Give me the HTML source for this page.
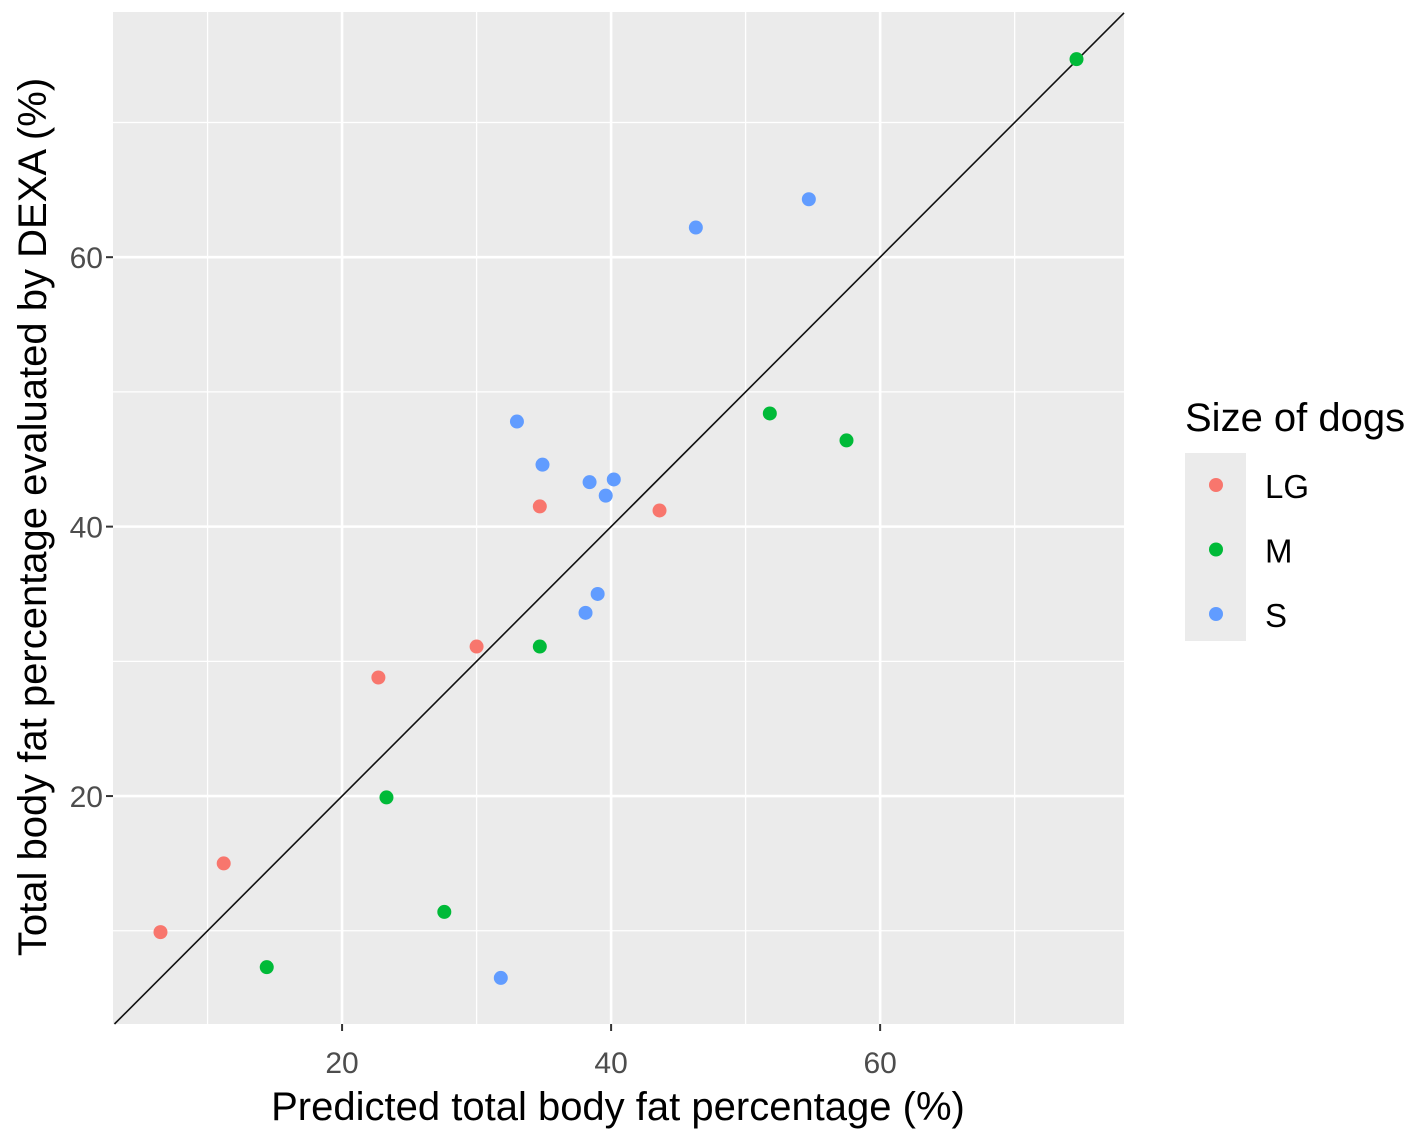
<!DOCTYPE html>
<html><head><meta charset="utf-8"><style>
html,body{margin:0;padding:0;background:#fff;}
svg{display:block;font-family:"Liberation Sans",Arial,sans-serif;}
</style></head><body>
<svg id="chart" width="1418" height="1140" viewBox="0 0 1418 1140">
<rect x="113" y="12" width="1011" height="1012" fill="#EBEBEB"/>
<g id="grid"></g>
<g id="ref"></g>
<g id="pts"></g>
<g id="axes"></g>
<text x="618" y="1120" text-anchor="middle" font-size="40" fill="#000">Predicted total body fat percentage (%)</text>
<text transform="translate(46,517) rotate(-90)" text-anchor="middle" font-size="40" fill="#000">Total body fat percentage evaluated by DEXA (%)</text>
<g>
<text x="1185" y="431" font-size="40" fill="#000">Size of dogs</text>
<rect x="1185" y="453" width="61" height="188" fill="#EBEBEB"/>
<g id="leg"></g>
</g>
</svg>
<script>
const categories = ["LG","M","S"];
const colors = ["#F8766D","#00BA38","#619CFF"];
const lgX = [6.5,11.2,22.7,30.0,34.7,43.6];
const lgY = [9.9,15.0,28.8,31.1,41.5,41.2];
const mX = [14.4,23.3,27.6,34.7,51.8,57.5,74.6];
const mY = [7.3,19.9,11.4,31.1,48.4,46.4,74.7];
const sX = [31.8,33.0,34.9,38.4,39.6,40.2,38.1,39.0,46.3,54.7];
const sY = [6.5,47.8,44.6,43.3,42.3,43.5,33.6,35.0,62.2,64.3];
const majorTicks = [20,40,60];
const minorTicks = [10,30,50,70];
const tickLabels = ["20","40","60"];

const NS="http://www.w3.org/2000/svg";
const L=113,R=1124,T=12,B=1024;
const xmin=2.97,xmax=78.13,ymin=3.08,ymax=78.2;
const sx=v=>L+(v-xmin)/(xmax-xmin)*(R-L);
const sy=v=>B-(v-ymin)/(ymax-ymin)*(B-T);
function mk(tag,attrs,parent){const e=document.createElementNS(NS,tag);for(const k in attrs)e.setAttribute(k,attrs[k]);parent.appendChild(e);return e;}
const grid=document.getElementById('grid');
minorTicks.forEach(v=>{
  let a=mk('line',{x1:sx(v),x2:sx(v),y1:T,y2:B,stroke:'#fff','stroke-width':1.3},grid);
  
  let b=mk('line',{x1:L,x2:R,y1:sy(v),y2:sy(v),stroke:'#fff','stroke-width':1.3},grid);
  
});
const axes=document.getElementById('axes');
majorTicks.forEach((v,i)=>{
  let a=mk('line',{x1:sx(v),x2:sx(v),y1:T,y2:B,stroke:'#fff','stroke-width':2.6},grid);
  
  let b=mk('line',{x1:L,x2:R,y1:sy(v),y2:sy(v),stroke:'#fff','stroke-width':2.6},grid);
  
  let t1=mk('line',{x1:sx(v),x2:sx(v),y1:B,y2:B+7,stroke:'#333','stroke-width':2},axes);
  
  let t2=mk('line',{x1:L-7,x2:L,y1:sy(v),y2:sy(v),stroke:'#333','stroke-width':2},axes);
  
  let l1=mk('text',{x:sx(v),y:B+49,'text-anchor':'middle','font-size':30,fill:'#4D4D4D'},axes);
  l1.textContent=tickLabels[i];
  
  let l2=mk('text',{x:L-10,y:sy(v)+11,'text-anchor':'end','font-size':30,fill:'#4D4D4D'},axes);
  l2.textContent=tickLabels[i];
  
});
const ref=document.getElementById('ref');
const lo=Math.max(xmin,ymin),hi=Math.min(xmax,ymax);
let ln=mk('line',{x1:sx(lo),y1:sy(lo),x2:sx(hi),y2:sy(hi),stroke:'#111','stroke-width':1.6},ref);

const pts=document.getElementById('pts');
const series=[[lgX,lgY],[mX,mY],[sX,sY]];
series.forEach((s,k)=>{
  s[0].forEach((x,i)=>{
    let c=mk('circle',{cx:sx(x),cy:sy(s[1][i]),r:7,fill:colors[k]},pts);
    
    
  });
});
const leg=document.getElementById('leg');
categories.forEach((c,k)=>{
  const y=485+k*64.5;
  let d=mk('circle',{cx:1216,cy:y,r:7,fill:colors[k]},leg);
  
  let t=mk('text',{x:1265,y:y+13,'font-size':33,fill:'#000'},leg);
  t.textContent=c;
  
});
</script>
</body></html>
